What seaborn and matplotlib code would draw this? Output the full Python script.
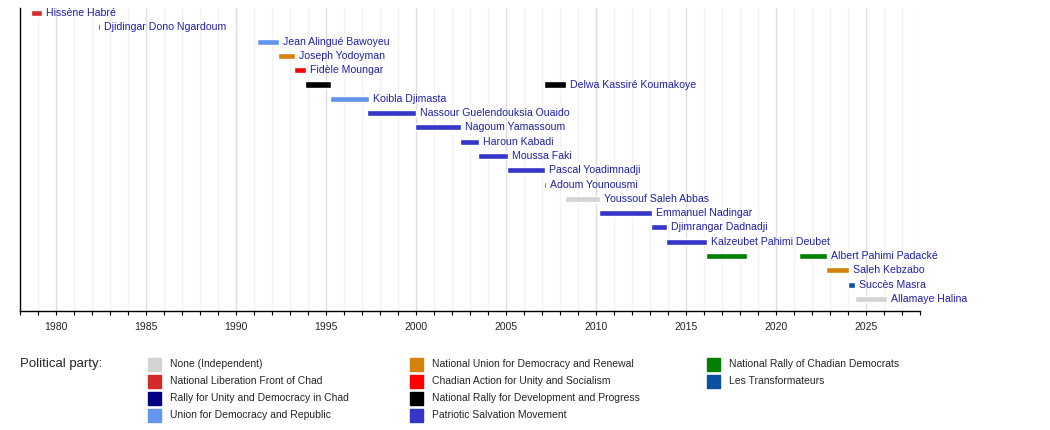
import pandas as pd
import matplotlib.pyplot as plt
import seaborn as sns
from matplotlib.patches import Rectangle
from matplotlib.ticker import MultipleLocator

# terms of office (one entry per term, two people served twice)
term_names = ["Hissène Habré", "Djidingar Dono Ngardoum", "Jean Alingué Bawoyeu",
              "Joseph Yodoyman", "Fidèle Moungar", "Delwa Kassiré Koumakoye",
              "Koibla Djimasta", "Nassour Guelendouksia Ouaido", "Nagoum Yamassoum",
              "Haroun Kabadi", "Moussa Faki", "Pascal Yoadimnadji", "Adoum Younousmi",
              "Delwa Kassiré Koumakoye", "Youssouf Saleh Abbas", "Emmanuel Nadingar",
              "Djimrangar Dadnadji", "Kalzeubet Pahimi Deubet", "Albert Pahimi Padacké",
              "Albert Pahimi Padacké", "Saleh Kebzabo", "Succès Masra", "Allamaye Halina"]
term_start = [1978.62, 1982.35, 1991.15, 1992.33, 1993.22, 1993.83, 1995.22, 1997.30,
              1999.94, 2002.44, 2003.44, 2005.06, 2007.12, 2007.11, 2008.28, 2010.17,
              2013.06, 2013.89, 2016.11, 2021.28, 2022.78, 2024.00, 2024.39]
term_end = [1979.22, 1982.45, 1992.37, 1993.28, 1993.89, 1995.28, 1997.39, 2000.00,
            2002.50, 2003.50, 2005.10, 2007.15, 2007.21, 2008.32, 2010.22, 2013.10,
            2013.94, 2016.17, 2018.39, 2022.83, 2024.06, 2024.41, 2026.17]
term_party = ["FROLINAT", "UNDR_C", "UDR", "UNDR", "ACTUS", "RNDP", "UDR", "MPS",
              "MPS", "MPS", "MPS", "MPS", "MPS", "RNDP", "IND", "MPS", "MPS", "MPS",
              "RNDT", "RNDT", "UNDR", "TRANS", "IND"]

party_keys = ["IND", "FROLINAT", "UNDR_C", "UDR", "UNDR", "ACTUS", "RNDP", "MPS",
              "RNDT", "TRANS"]
party_labels = ["None (Independent)", "National Liberation Front of Chad",
                "Rally for Unity and Democracy in Chad", "Union for Democracy and Republic",
                "National Union for Democracy and Renewal",
                "Chadian Action for Unity and Socialism",
                "National Rally for Development and Progress",
                "Patriotic Salvation Movement", "National Rally of Chadian Democrats",
                "Les Transformateurs"]
party_colors = ["#d3d3d3", "#d32a2a", "#000080", "#6495ed", "#d4820a", "#ff0000",
                "#000000", "#3535c8", "#008000", "#0b4ea2"]

sns.set_style("white")
plt.rcParams["font.family"] = ["Liberation Sans", "DejaVu Sans"]

df = pd.DataFrame({"name": term_names, "start": term_start, "end": term_end,
                   "party": term_party})
rows = list(dict.fromkeys(term_names))
df["row"] = df["name"].map({n: i for i, n in enumerate(rows)})
colmap = dict(zip(party_keys, party_colors))

fig = plt.figure(figsize=(10.5, 4.3), dpi=100)
ax = fig.add_axes([20 / 1050, 119 / 430, 900 / 1050, 303 / 430])

ax.barh(df["row"], df["end"] - df["start"], left=df["start"], height=0.42,
        color=df["party"].map(colmap), zorder=3)

last = df.groupby("name").agg(row=("row", "first"), end=("end", "max"))
for name, r in last.iterrows():
    ax.text(r["end"] + 0.22, r["row"], name, va="center", ha="left",
            fontsize=7.6, color="#2020aa", zorder=4)

ax.set_xlim(1978, 2028)
ax.set_ylim(20.84, -0.35)
ax.xaxis.set_major_locator(MultipleLocator(5))
ax.xaxis.set_minor_locator(MultipleLocator(1))
ax.grid(which="major", axis="x", color="#dddddd", lw=1, zorder=0)
ax.grid(which="minor", axis="x", color="#f3f3f3", lw=1, zorder=0)
ax.set_yticks([])
ax.tick_params(axis="x", which="both", direction="out", length=3, width=0.8,
               color="black", bottom=True, labelsize=7.5, pad=5)
for s in ["top", "right"]:
    ax.spines[s].set_visible(False)
for s in ["left", "bottom"]:
    ax.spines[s].set_color("black")
    ax.spines[s].set_linewidth(1)

# legend
fig.text(20 / 1050, 1 - 364 / 430, "Political party:", fontsize=9.5, va="center")
col_x = [148, 410, 707]
for i, (lab, c) in enumerate(zip(party_labels, party_colors)):
    col, rw = i // 4, i % 4
    yc = 364 + rw * 17
    fig.patches.append(Rectangle((col_x[col] / 1050, 1 - (yc + 6.5) / 430),
                                 13 / 1050, 13 / 430, color=c,
                                 transform=fig.transFigure, figure=fig))
    fig.text((col_x[col] + 22) / 1050, 1 - yc / 430, lab, fontsize=7.5, va="center")

fig.savefig("out.png", dpi=100)
